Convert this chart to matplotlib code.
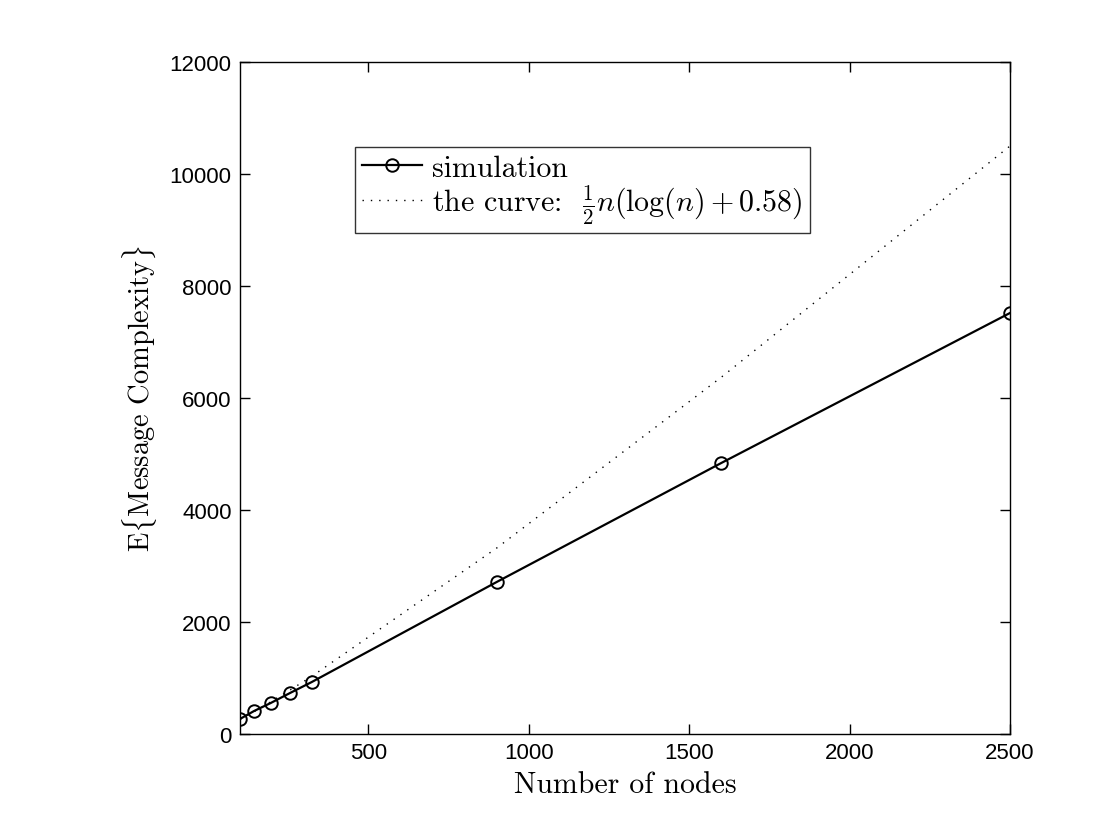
import matplotlib
matplotlib.use('Agg')
import matplotlib.pyplot as plt

plt.rcParams['font.family'] = ['Liberation Sans', 'DejaVu Sans']
plt.rcParams['mathtext.fontset'] = 'cm'
plt.rcParams['axes.unicode_minus'] = False

# number of nodes
nodes = [100, 144, 196, 256, 324, 900, 1600, 2500]
# simulated expected message complexity
simulation = [268, 411, 554, 732, 929, 2714, 4839, 7518]
# dotted reference curve
curve = [260, 400, 575, 785, 1030, 3320, 6370, 10500]

fig = plt.figure(figsize=(11.15, 8.28), dpi=100)
ax = fig.add_axes([0.2152, 0.1123, 0.6906, 0.8116])

ax.plot(nodes, simulation, color='black', lw=1.6, marker='o', markersize=9,
        markerfacecolor='none', markeredgewidth=1.4, label='simulation')
ax.plot(nodes, curve, color='black', lw=1.0, linestyle=(0, (1, 5)),
        label=r'the curve:  $\frac{1}{2}n(\log(n)+0.58)$')

ax.set_xlim(100, 2500)
ax.set_ylim(0, 12000)
ax.set_xticks([500, 1000, 1500, 2000, 2500])
ax.set_yticks(range(0, 12001, 2000))
ax.tick_params(direction='in', top=True, right=True, labelsize=16,
               length=7, width=1, pad=6)
for s in ax.spines.values():
    s.set_linewidth(1)

ax.set_xlabel('Number of nodes', family='cmr10', fontsize=21.5, labelpad=5)
ax.set_ylabel(r'E$\{$Message Complexity$\}$', family='cmr10', fontsize=20.5, labelpad=8)

leg = ax.legend(loc='upper left', bbox_to_anchor=(0.149, 0.8735), borderaxespad=0,
                prop={'family': 'cmr10', 'size': 21.5}, frameon=True, fancybox=False,
                edgecolor='black', handlelength=2.0, handletextpad=0.35,
                borderpad=0.25, labelspacing=0.02)
leg.get_frame().set_linewidth(1)

fig.savefig('out.png', dpi=100)
